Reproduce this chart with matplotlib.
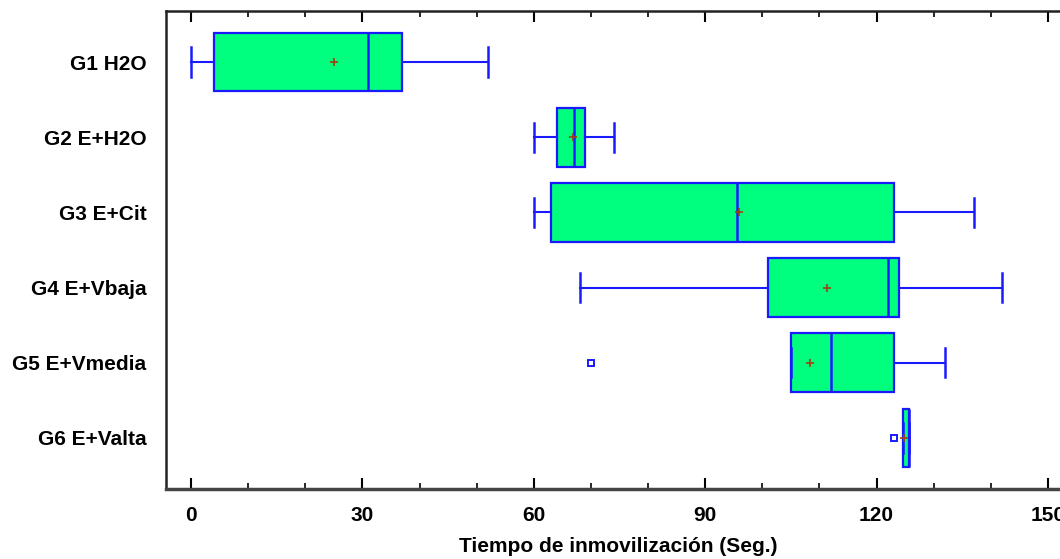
import numpy as np
import matplotlib.pyplot as plt
from matplotlib.ticker import MultipleLocator

groups = ["G1 H2O", "G2 E+H2O", "G3 E+Cit", "G4 E+Vbaja", "G5 E+Vmedia", "G6 E+Valta"]
whis_lo = [0, 60, 60, 68, 105, 124.7]
q1 = [4, 64, 63, 101, 105, 124.7]
med = [31, 67, 95.5, 122, 112, 125.6]
q3 = [37, 69, 123, 124, 123, 125.7]
whis_hi = [52, 74, 137, 142, 132, 125.7]
means = [25, 66.8, 96, 111.4, 108.4, 124.8]
fliers = [[], [], [], [], [70], [123]]

plt.rcParams['font.family'] = ['Liberation Sans', 'DejaVu Sans']

fig = plt.figure(figsize=(10.6, 5.59), dpi=100)
ax = fig.add_axes([0.1566, 0.1252, 0.853, 0.8551])

stats = []
for i, g in enumerate(groups):
    stats.append(dict(label=g, whislo=whis_lo[i], q1=q1[i], med=med[i], q3=q3[i],
                      whishi=whis_hi[i], mean=means[i], fliers=fliers[i]))

pos = np.arange(1, len(groups) + 1)
blue = '#1a1aff'
ax.bxp(stats, positions=pos, vert=False, widths=0.78, patch_artist=True,
       showmeans=True, showcaps=True,
       boxprops=dict(facecolor='#00ff7f', edgecolor=blue, linewidth=1.6),
       medianprops=dict(color=blue, linewidth=1.8),
       whiskerprops=dict(color=blue, linewidth=1.5),
       capprops=dict(color=blue, linewidth=1.8),
       meanprops=dict(marker='+', markeredgecolor='#a04010', markersize=6, markeredgewidth=1.2),
       flierprops=dict(marker='s', markerfacecolor='none', markeredgecolor=blue,
                       markersize=5, markeredgewidth=1.4))

ax.set_ylim(6.68, 0.32)
ax.set_xlim(-4.4, 153.9)
ax.xaxis.set_major_locator(MultipleLocator(30))
ax.xaxis.set_minor_locator(MultipleLocator(10))
ax.tick_params(axis='x', which='major', direction='in', top=True, length=8, width=1.5,
               labelsize=15, pad=12)
ax.tick_params(axis='x', which='minor', direction='in', top=True, length=4, width=1.2)
ax.tick_params(axis='y', length=0, labelsize=15, pad=14)
for t in ax.get_xticklabels() + ax.get_yticklabels():
    t.set_fontweight('bold')

ax.spines['right'].set_visible(False)
for s in ['left', 'top']:
    ax.spines[s].set_linewidth(1.8)
    ax.spines[s].set_color('#222222')
ax.spines['bottom'].set_linewidth(2.5)
ax.spines['bottom'].set_color('#444444')

ax.set_xlabel("Tiempo de inmovilización (Seg.)", fontsize=15, fontweight='bold', labelpad=9)

fig.savefig("out.png", dpi=100)
